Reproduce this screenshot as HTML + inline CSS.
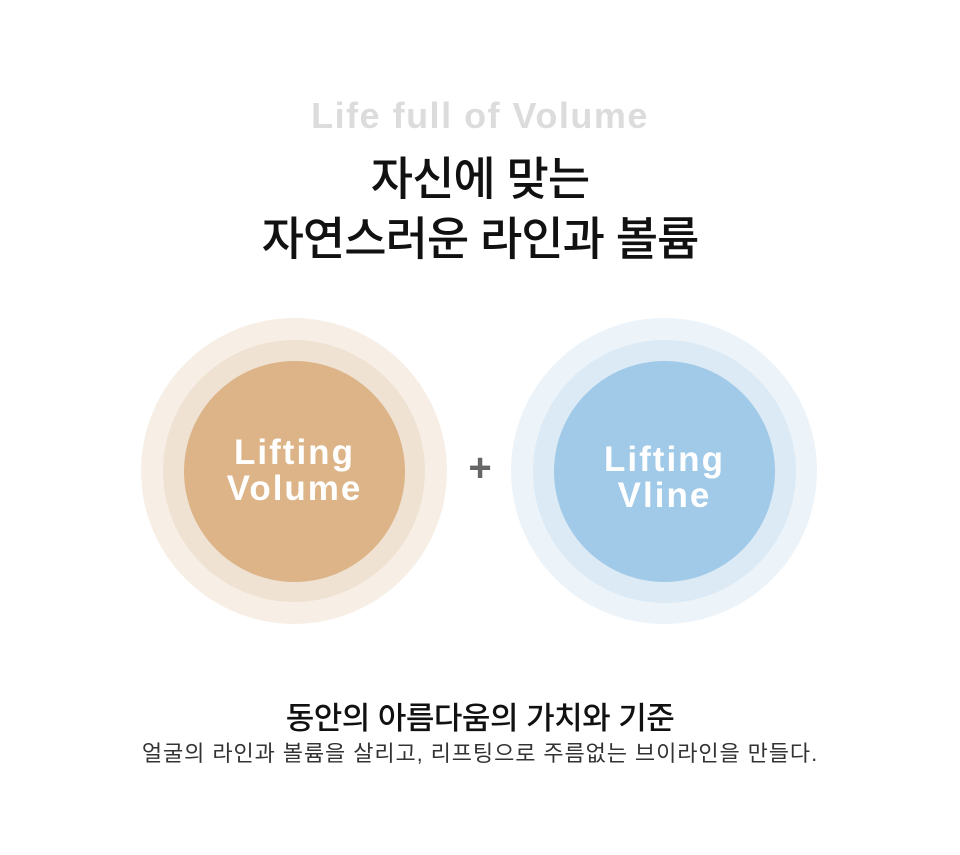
<!DOCTYPE html>
<html><head><meta charset="utf-8"><style>
html,body{margin:0;padding:0;background:#fff;}
body{width:960px;height:855px;position:relative;overflow:hidden;font-family:"Liberation Sans","Noto Sans CJK KR",sans-serif;}
.t{position:absolute;left:0;width:960px;text-align:center;white-space:nowrap;}
.c{position:absolute;border-radius:50%;}
.lbl{position:absolute;text-align:center;color:#fff;font-weight:bold;font-size:35px;line-height:36px;letter-spacing:2px;}
</style></head><body>
<div class="t" style="top:95px;font-size:36px;font-weight:bold;color:#dcdcdc;letter-spacing:1.5px;">Life full of Volume</div>
<div class="t" style="top:149px;font-size:46px;font-weight:500;color:#111;line-height:60px;letter-spacing:-1px;">자신에 맞는<br>자연스러운 라인과 볼륨</div>

<div class="c" style="left:141px;top:318px;width:306px;height:306px;background:#f7efe6;"></div>
<div class="c" style="left:163px;top:340px;width:262px;height:262px;background:#f0e2d3;"></div>
<div class="c" style="left:184px;top:361px;width:221px;height:221px;background:#dcb488;"></div>
<div class="lbl" style="left:184px;width:221px;top:435px;">Lifting<br>Volume</div>

<div class="t" style="top:446px;font-size:40px;font-weight:bold;color:#666;">+</div>

<div class="c" style="left:511px;top:318px;width:306px;height:306px;background:#ecf3f9;"></div>
<div class="c" style="left:533px;top:340px;width:263px;height:263px;background:#dbeaf5;"></div>
<div class="c" style="left:554px;top:361px;width:221px;height:221px;background:#a1cae8;"></div>
<div class="lbl" style="left:554px;width:221px;top:442px;">Lifting<br>Vline</div>

<div class="t" style="top:693px;font-size:31px;font-weight:500;color:#111;letter-spacing:-0.5px;">동안의 아름다움의 가치와 기준</div>
<div class="t" style="top:736px;font-size:22px;color:#333;letter-spacing:0.9px;">얼굴의 라인과 볼륨을 살리고, 리프팅으로 주름없는 브이라인을 만들다.</div>
</body></html>
